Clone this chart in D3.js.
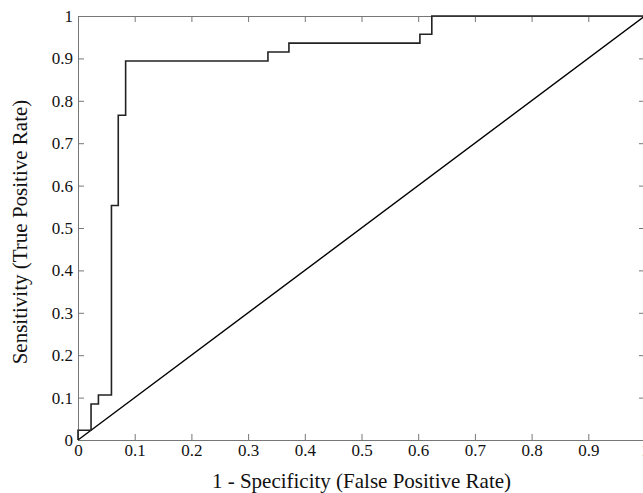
<!DOCTYPE html>
<html>
<head>
<meta charset="utf-8">
<script src="https://cdn.jsdelivr.net/npm/d3@7"></script>
<style>
  body { margin: 0; background: #fff; }
  svg { display: block; }
  .axis path, .axis line { stroke: #777; }
  .axis text { font-family: "Liberation Serif", serif; font-size: 17px; fill: #111; }
  .label { font-family: "Liberation Serif", serif; font-size: 21px; fill: #111; }
</style>
</head>
<body>
<script>
// ROC curve vertices (step after)
var fpr = [0, 0, 0.023, 0.036, 0.059, 0.071, 0.084, 0.335, 0.372, 0.603, 0.624, 1];
var tpr = [0, 0.023, 0.085, 0.106, 0.553, 0.766, 0.894, 0.915, 0.936, 0.957, 1, 1];
var xTicks = [0, 0.1, 0.2, 0.3, 0.4, 0.5, 0.6, 0.7, 0.8, 0.9, 1];
var yTicks = [0, 0.1, 0.2, 0.3, 0.4, 0.5, 0.6, 0.7, 0.8, 0.9, 1];

var W = 643, H = 493;
var plotL = 78, plotT = 16, plotR = 645, plotB = 440;

var svg = d3.select("body").append("svg")
  .attr("width", W)
  .attr("height", H);

var x = d3.scaleLinear().domain([0, 1]).range([plotL, plotR]);
var y = d3.scaleLinear().domain([0, 1]).range([plotB, plotT]);

function fmt(d) { return d === 0 ? "0" : d === 1 ? "1" : d3.format(".1f")(d); }

svg.append("g").attr("class", "axis")
  .attr("transform", "translate(0," + plotB + ")")
  .call(d3.axisBottom(x).tickValues(xTicks).tickFormat(fmt).tickSizeInner(-6).tickSizeOuter(0).tickPadding(4));
svg.append("g").attr("class", "axis")
  .attr("transform", "translate(0," + plotT + ")")
  .call(d3.axisTop(x).tickValues(xTicks).tickFormat("").tickSizeInner(-6).tickSizeOuter(0));
svg.append("g").attr("class", "axis")
  .attr("transform", "translate(" + plotL + ",0)")
  .call(d3.axisLeft(y).tickValues(yTicks).tickFormat(fmt).tickSizeInner(-6).tickSizeOuter(0).tickPadding(5));
svg.append("g").attr("class", "axis")
  .attr("transform", "translate(" + plotR + ",0)")
  .call(d3.axisRight(y).tickValues(yTicks).tickFormat("").tickSizeInner(-6).tickSizeOuter(0));

// chance diagonal
svg.append("line")
  .attr("x1", x(0)).attr("y1", y(0))
  .attr("x2", x(1)).attr("y2", y(1))
  .attr("stroke", "#000").attr("stroke-width", 1.4);

// ROC curve
var pts = fpr.map(function(d, i) { return [d, tpr[i]]; });
var line = d3.line()
  .x(function(d) { return x(d[0]); })
  .y(function(d) { return y(d[1]); })
  .curve(d3.curveStepAfter);
svg.append("path")
  .datum(pts)
  .attr("d", line)
  .attr("fill", "none")
  .attr("stroke", "#222")
  .attr("stroke-width", 1.6);

svg.append("text").attr("class", "label")
  .attr("x", (plotL + plotR) / 2).attr("y", 488)
  .attr("text-anchor", "middle")
  .text("1 - Specificity (False Positive Rate)");

svg.append("text").attr("class", "label")
  .attr("transform", "translate(27," + ((plotT + plotB) / 2 + 4) + ") rotate(-90)")
  .attr("text-anchor", "middle")
  .text("Sensitivity (True Positive Rate)");
</script>
</body>
</html>
